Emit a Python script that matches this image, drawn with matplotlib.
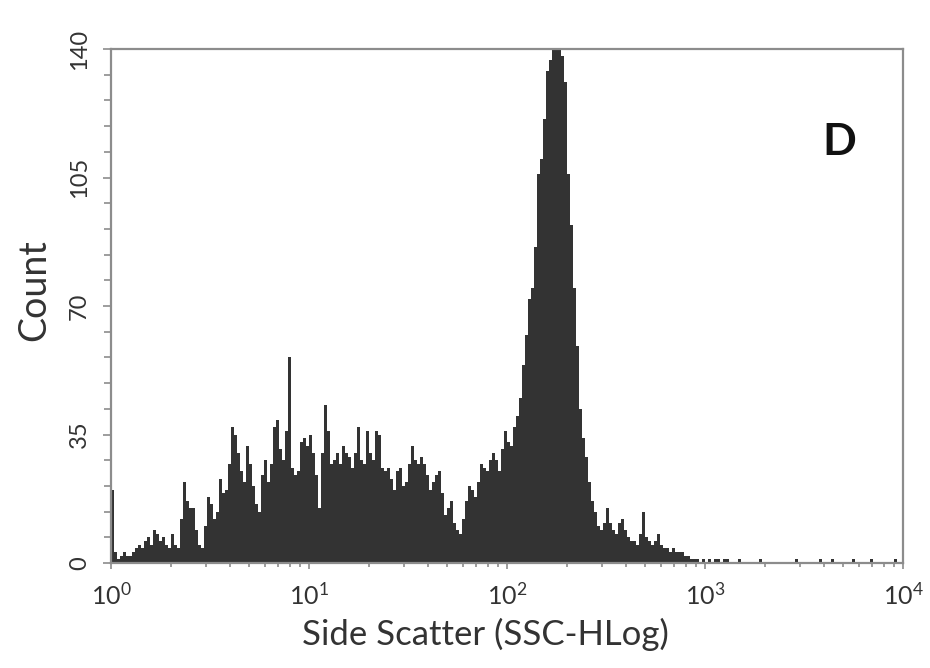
import numpy as np
import matplotlib
matplotlib.use("Agg")
import matplotlib.pyplot as plt
from matplotlib.ticker import LogLocator, MultipleLocator, FixedLocator

# Side-scatter histogram: counts per log-spaced channel, 10^0 .. 10^4
counts_low = [
    20, 3, 1, 2, 3, 2, 2, 3, 4, 5, 4, 6, 7, 5, 9, 8, 6, 7, 5, 4,
    8, 5, 4, 12, 22, 17, 15, 15, 9, 5, 4, 10, 18, 16, 12, 14, 23, 19, 20, 27,
    37, 35, 30, 25, 22, 32, 27, 21, 16, 14, 24, 28, 22, 27, 37, 39, 31, 28, 36, 56,
    26, 24, 25, 33, 34, 32, 35, 30, 24, 15,
]
counts_mid = [
    30, 43, 36, 27, 28, 30, 27, 32, 30, 29, 26, 30, 37, 28, 27, 36, 30, 28, 36, 35,
    26, 25, 26, 23, 20, 25, 26, 21, 22, 27, 32, 28, 27, 29, 27, 24, 20, 22, 24, 25,
    19, 13, 15, 17, 11, 9, 8, 12, 17, 21, 20, 18, 22, 27, 26, 25, 28, 30, 28, 25,
    31, 36, 33, 32, 37, 40, 45, 54, 62, 72,
]
counts_peak = [
    75, 86, 106, 110, 121, 134, 137, 140, 140, 140, 138, 131, 106, 92, 75, 59, 42, 34, 29, 22,
    17, 14, 10, 9, 11, 15, 11, 9, 8, 11, 12, 9, 7, 6, 6, 5, 8, 14, 7, 6,
    5, 6, 8, 5, 4, 4, 3, 4, 3, 3, 3, 2, 2, 1, 1, 1, 0,
]
counts_tail = [
    1, 0, 1, 0, 1, 1, 0, 1, 1, 0, 0, 0, 1, 0, 0, 0, 0, 0, 0, 1,
    0, 0, 0, 0, 0, 0, 0, 0, 0, 0, 0, 1, 0, 0, 0, 0, 0, 0, 0, 1,
    0, 0, 0, 1, 0, 0, 0, 0, 0, 0, 1, 0, 0, 0, 0, 0, 1, 0, 0, 0,
    0, 0, 0, 0, 1, 0, 0,
]
counts = counts_low + counts_mid + counts_peak + counts_tail

x_min, x_max = 1, 10_000
y_max = 140
y_ticks = [0, 35, 70, 105, 140]
x_ticks = [1, 10, 100, 1000, 10000]
x_tick_labels = [r"$\mathdefault{10^{0}}$", r"$\mathdefault{10^{1}}$",
                 r"$\mathdefault{10^{2}}$", r"$\mathdefault{10^{3}}$",
                 r"$\mathdefault{10^{4}}$"]

plt.rcParams["font.family"] = ["Lato", "DejaVu Sans"]
plt.rcParams["mathtext.fontset"] = "custom"
plt.rcParams["mathtext.rm"] = "Lato"

fig = plt.figure(figsize=(9.3, 6.68), dpi=100)
ax = fig.add_axes([0.1194, 0.1572, 0.8516, 0.7694])

edges = np.logspace(np.log10(x_min), np.log10(x_max), len(counts) + 1)
ax.stairs(counts, edges, fill=True, color="#333333", linewidth=0)

ax.set_xscale("log")
ax.set_xlim(x_min, x_max)
ax.set_ylim(0, y_max)

frame = "#8c8c8c"
for s in ax.spines.values():
    s.set_color(frame)
    s.set_linewidth(1.6)

ax.xaxis.set_major_locator(FixedLocator(x_ticks))
ax.set_xticklabels(x_tick_labels)
ax.xaxis.set_minor_locator(LogLocator(base=10, subs=np.arange(2, 10)))
ax.yaxis.set_major_locator(FixedLocator(y_ticks))
ax.yaxis.set_minor_locator(MultipleLocator(7))

ax.tick_params(axis="both", which="both", color=frame, width=1.2, direction="out")
ax.tick_params(axis="y", which="major", length=6, pad=9, labelsize=17, labelcolor="#333333")
ax.tick_params(axis="y", which="minor", length=5)
ax.tick_params(axis="x", which="major", length=4, pad=10, labelsize=18, labelcolor="#333333")
ax.tick_params(axis="x", which="minor", length=3)
for lab in ax.get_yticklabels():
    lab.set_rotation(90)
    lab.set_va("center")

ax.set_xlabel("Side Scatter (SSC-HLog)", fontsize=25, color="#333333")
ax.xaxis.set_label_coords(0.473, -0.107)
ax.set_ylabel("Count", fontsize=27, color="#333333")
ax.yaxis.set_label_coords(-0.0745, 0.531)

ax.text(0.92, 0.82, "D", transform=ax.transAxes, fontsize=32, fontweight="bold",
        ha="center", va="center", color="#111111")

fig.savefig("out.png", dpi=100)
